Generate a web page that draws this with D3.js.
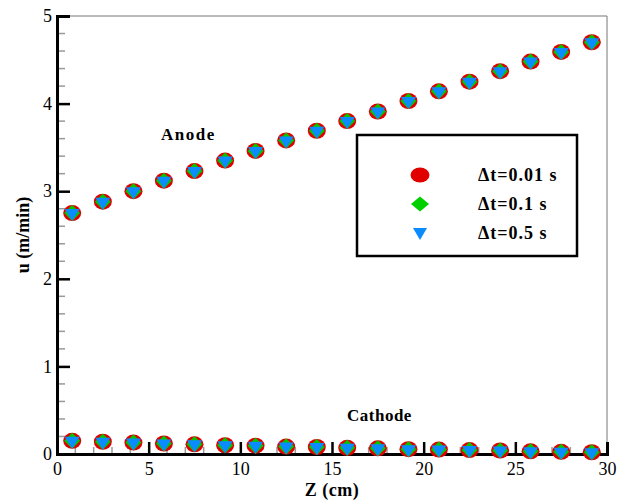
<!DOCTYPE html>
<html>
<head>
<meta charset="utf-8">
<script src="https://cdn.jsdelivr.net/npm/d3@7"></script>
<style>
  body { margin: 0; background: #fff; }
  svg text { font-family: "Liberation Serif", "Times New Roman", serif; }
</style>
</head>
<body>
<script>
// Data
const zPositions = [0.83, 2.5, 4.17, 5.83, 7.5, 9.17, 10.83, 12.5, 14.17, 15.83, 17.5, 19.17, 20.83, 22.5, 24.17, 25.83, 27.5, 29.17];
const anodeU = [2.75, 2.88, 3.0, 3.12, 3.23, 3.35, 3.46, 3.58, 3.69, 3.80, 3.91, 4.03, 4.14, 4.25, 4.37, 4.48, 4.59, 4.70];
const cathodeU = [0.15, 0.14, 0.13, 0.12, 0.11, 0.10, 0.095, 0.085, 0.08, 0.07, 0.065, 0.055, 0.05, 0.045, 0.04, 0.03, 0.025, 0.02];
const seriesNames = ['\u0394t=0.01 s', '\u0394t=0.1 s', '\u0394t=0.5 s'];
const xTicks = [0, 5, 10, 15, 20, 25, 30];
const yTicks = [0, 1, 2, 3, 4, 5];

const width = 630, height = 500;
const margin = { top: 16, right: 23, bottom: 46, left: 57 };
const innerW = width - margin.left - margin.right;
const innerH = height - margin.top - margin.bottom;

const svg = d3.select('body')
    .append('svg')
    .attr('width', width)
    .attr('height', height);

const g = svg.append('g')
    .attr('transform', `translate(${margin.left}, ${margin.top})`);

const x = d3.scaleLinear().domain([0, 30]).range([0, innerW]);
const y = d3.scaleLinear().domain([0, 5]).range([innerH, 0]);

// frame: thin gray top and right
g.append('line').attr('x1', 0).attr('x2', innerW).attr('y1', 0).attr('y2', 0)
    .attr('stroke', '#777').attr('stroke-width', 1);
g.append('line').attr('x1', innerW).attr('x2', innerW).attr('y1', 0).attr('y2', innerH)
    .attr('stroke', '#777').attr('stroke-width', 1);

// minor ticks
g.append('g').selectAll('line')
    .data(d3.range(0, 30, 1).filter(v => v % 5 !== 0))
    .join('line')
    .attr('x1', d => x(d)).attr('x2', d => x(d))
    .attr('y1', innerH).attr('y2', innerH - 7)
    .attr('stroke', '#999').attr('stroke-width', 1.5);
g.append('g').selectAll('line')
    .data(d3.range(0, 25).map(i => i * 0.2).filter((v, i) => i % 5 !== 0))
    .join('line')
    .attr('x1', 0).attr('x2', 8)
    .attr('y1', d => y(d)).attr('y2', d => y(d))
    .attr('stroke', '#999').attr('stroke-width', 1.5);

// axes with inward major ticks
const xAxis = g.append('g')
    .attr('transform', `translate(0, ${innerH})`)
    .call(d3.axisBottom(x).tickValues(xTicks).tickSize(-12).tickPadding(6).tickFormat(d3.format('d')));
xAxis.select('.domain').attr('stroke', '#000').attr('stroke-width', 3);
xAxis.selectAll('.tick line').attr('stroke', '#000').attr('stroke-width', 2.5);
xAxis.selectAll('.tick text').attr('font-size', 18).attr('font-family', '"Liberation Serif", serif')
    .attr('dy', '0.95em').attr('y', 4);

const yAxis = g.append('g')
    .call(d3.axisLeft(y).tickValues(yTicks).tickSize(-13).tickPadding(6).tickFormat(d3.format('d')));
yAxis.select('.domain').attr('stroke', '#000').attr('stroke-width', 3);
yAxis.selectAll('.tick line').attr('stroke', '#000').attr('stroke-width', 2.5);
yAxis.selectAll('.tick text').attr('font-size', 18).attr('font-family', '"Liberation Serif", serif')
    .attr('x', -5);

// axis titles
svg.append('text')
    .attr('x', margin.left + innerW / 2)
    .attr('y', 496)
    .attr('text-anchor', 'middle')
    .attr('font-weight', 'bold')
    .attr('font-size', 18)
    .attr('letter-spacing', 0.5)
    .text('Z (cm)');
svg.append('text')
    .attr('transform', `translate(29, ${margin.top + innerH / 2}) rotate(-90)`)
    .attr('text-anchor', 'middle')
    .attr('font-weight', 'bold')
    .attr('font-size', 18)
    .text('u (m/min)');

// markers
function drawPoints(values) {
    const pts = zPositions.map((z, i) => ({ z, u: values[i] }));
    const mg = g.append('g');
    mg.selectAll('ellipse').data(pts).join('ellipse')
        .attr('cx', d => x(d.z)).attr('cy', d => y(d.u))
        .attr('rx', 9).attr('ry', 8)
        .attr('fill', '#e00000');
    mg.selectAll('path.dia').data(pts).join('path')
        .attr('class', 'dia')
        .attr('d', d => {
            const cx = x(d.z), cy = y(d.u);
            return `M${cx},${cy - 8}L${cx + 8},${cy}L${cx},${cy + 8}L${cx - 8},${cy}Z`;
        })
        .attr('fill', '#00c800');
    mg.selectAll('path.tri').data(pts).join('path')
        .attr('class', 'tri')
        .attr('d', d => {
            const cx = x(d.z), cy = y(d.u);
            return `M${cx - 7.5},${cy - 4}L${cx + 7.5},${cy - 4}L${cx},${cy + 8}Z`;
        })
        .attr('fill', '#0a8cff');
}
drawPoints(anodeU);
drawPoints(cathodeU);

// region labels
svg.append('text').attr('x', 161).attr('y', 140)
    .attr('font-weight', 'bold').attr('font-size', 17).attr('letter-spacing', 1.5)
    .text('Anode');
svg.append('text').attr('x', 347).attr('y', 421)
    .attr('font-weight', 'bold').attr('font-size', 17).attr('letter-spacing', 0.5)
    .text('Cathode');

// legend
const legend = svg.append('g').attr('transform', 'translate(357, 135)');
legend.append('rect')
    .attr('width', 220).attr('height', 121)
    .attr('fill', '#fff').attr('stroke', '#000').attr('stroke-width', 2.5);
const lx = 63;
const rows = [40, 69, 98];
legend.append('ellipse').attr('cx', lx).attr('cy', rows[0]).attr('rx', 9.5).attr('ry', 7.5).attr('fill', '#e00000');
legend.append('path')
    .attr('d', `M${lx},${rows[1] - 7.5}L${lx + 9},${rows[1]}L${lx},${rows[1] + 7.5}L${lx - 9},${rows[1]}Z`)
    .attr('fill', '#00d000');
legend.append('path')
    .attr('d', `M${lx - 7},${rows[2] - 5}L${lx + 7},${rows[2] - 5}L${lx},${rows[2] + 7}Z`)
    .attr('fill', '#0a8cff');
legend.selectAll('text.lbl').data(seriesNames).join('text')
    .attr('class', 'lbl')
    .attr('x', 121)
    .attr('y', (d, i) => rows[i])
    .attr('dy', '0.35em')
    .attr('font-weight', 'bold')
    .attr('font-size', 18)
    .attr('letter-spacing', 1)
    .text(d => d);
</script>
</body>
</html>
